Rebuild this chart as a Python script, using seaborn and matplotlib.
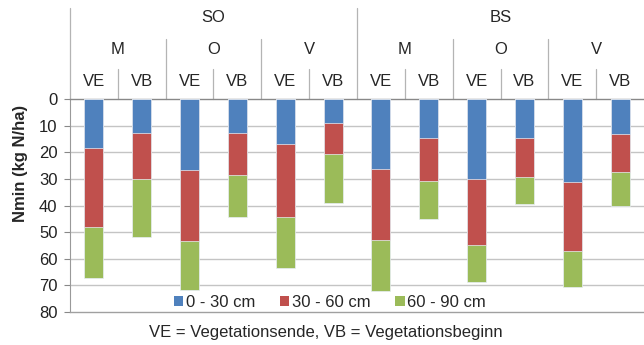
import matplotlib
matplotlib.use("Agg")
import matplotlib.pyplot as plt
import matplotlib.transforms as mtransforms
from matplotlib.patches import Patch
import seaborn as sns
import pandas as pd
import numpy as np

# ---- data ----
sites = ["SO"] * 6 + ["BS"] * 6
crops = ["M", "M", "O", "O", "V", "V"] * 2
times = ["VE", "VB"] * 6
layer_0_30 = [18.5, 12.9, 26.7, 12.7, 17.0, 9.1, 26.4, 14.5, 30.1, 14.8, 31.3, 13.3]
layer_30_60 = [29.5, 17.2, 26.7, 15.9, 27.4, 11.5, 26.6, 16.3, 24.8, 14.6, 25.7, 14.1]
layer_60_90 = [19.4, 21.7, 18.3, 15.9, 18.9, 18.5, 19.0, 14.4, 13.8, 10.2, 13.6, 12.9]
series_labels = ["0 - 30 cm", "30 - 60 cm", "60 - 90 cm"]
colors = ["#4F81BD", "#C0504D", "#9BBB59"]
y_ticks = [0, 10, 20, 30, 40, 50, 60, 70, 80]
ylabel = "Nmin (kg N/ha)"
footnote = "VE = Vegetationsende, VB = Vegetationsbeginn"

sns.set_theme(style="white")
plt.rcParams["font.family"] = ["Liberation Sans", "DejaVu Sans"]

df = pd.DataFrame({
    "key": [f"{s}-{c}-{t}" for s, c, t in zip(sites, crops, times)],
    "l1": layer_0_30, "l2": layer_30_60, "l3": layer_60_90,
})
df["c1"] = df["l1"]
df["c2"] = df["l1"] + df["l2"]
df["c3"] = df["c2"] + df["l3"]
order = list(df["key"])

fig = plt.figure(figsize=(6.44, 3.45), dpi=100)
ax = fig.add_axes([70 / 644, 1 - 312 / 345, 574 / 644, 213 / 345])

for col, colr in zip(["c3", "c2", "c1"], colors[::-1]):
    sns.barplot(data=df, x="key", y=col, order=order, color=colr, width=0.4,
                saturation=1, edgecolor="#E8EEF6", linewidth=0.5, ax=ax, zorder=3)

fs = 12
ax.set_ylim(80, 0)
ax.set_xlim(-0.5, 11.5)
ax.set_yticks(y_ticks)
ax.set_yticklabels([str(v) for v in y_ticks], fontsize=fs, color="#222222")
ax.set_xticks([])
ax.set_xlabel("")
ax.set_ylabel("")
ax.tick_params(axis="y", length=4, width=0.8, color="#888888", pad=5, left=True)
for v in y_ticks[1:-1]:
    ax.axhline(v, color="#C4C4C4", lw=1.0, zorder=1)
ax.spines["right"].set_visible(False)
ax.spines["top"].set_color("#888888")
ax.spines["top"].set_linewidth(1.0)
ax.spines["bottom"].set_color("#A0A0A0")
ax.spines["bottom"].set_linewidth(1.0)
ax.spines["left"].set_color("#999999")
ax.spines["left"].set_linewidth(0.8)

# ---- multi-level category header ----
trans = mtransforms.blended_transform_factory(ax.transData, ax.transAxes)
lc = "#B4B4B4"
y_top = 1 + 91 / 213
y_mid = 1 + 60 / 213
y_low = 1 + 30 / 213
for i, t in enumerate(times):
    ax.text(i, 1 + 18 / 213, t, transform=trans, ha="center", va="center", fontsize=fs)
for g in range(6):
    ax.text(2 * g + 0.5, 1 + 50 / 213, crops[2 * g], transform=trans, ha="center", va="center", fontsize=fs)
for g in range(2):
    ax.text(6 * g + 2.5, 1 + 81 / 213, sites[6 * g], transform=trans, ha="center", va="center", fontsize=fs)
for x in [-0.5, 5.5]:
    ax.plot([x, x], [1, y_top], transform=trans, color=lc, lw=0.9, clip_on=False)
for x in [1.5, 3.5, 7.5, 9.5]:
    ax.plot([x, x], [1, y_mid], transform=trans, color=lc, lw=0.9, clip_on=False)
for x in [0.5, 2.5, 4.5, 6.5, 8.5, 10.5]:
    ax.plot([x, x], [1, y_low], transform=trans, color=lc, lw=0.9, clip_on=False)

handles = [Patch(facecolor=c, edgecolor="none") for c in colors]
ax.legend(handles, series_labels, loc="center", bbox_to_anchor=(0.453, 0.045), ncol=3,
          frameon=False, fontsize=fs, handlelength=0.55, handleheight=0.55,
          handletextpad=0.15, columnspacing=1.5, borderaxespad=0)

fig.text(21 / 644, 1 - 163 / 345, ylabel, rotation=90, ha="center", va="center",
         fontsize=fs, fontweight="bold")
fig.text(326 / 644, 1 - 332 / 345, footnote, ha="center", va="center", fontsize=fs)

fig.savefig("out.png", dpi=100)
